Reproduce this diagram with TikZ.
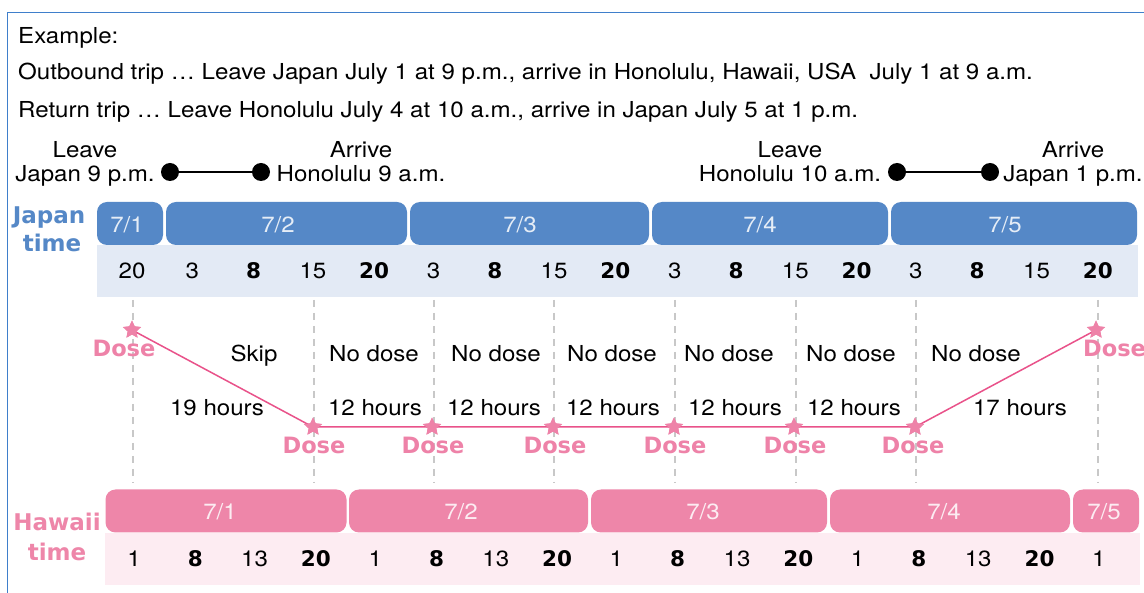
\documentclass[tikz,border=0pt]{standalone}
\usepackage{fontspec}
\setmainfont{TeX Gyre Heros}[FakeStretch=1.095]
\newfontfamily\heavyfont{DejaVu Sans}
\usetikzlibrary{shapes.geometric}
\definecolor{framec}{HTML}{3F7FCB}
\definecolor{jblue}{HTML}{5588C7}
\definecolor{jband}{HTML}{E3EAF5}
\definecolor{hpink}{HTML}{EE86A9}
\definecolor{hband}{HTML}{FDECF2}
\definecolor{pline}{HTML}{E9528A}
\definecolor{dosec}{HTML}{EE82A8}
\definecolor{dashc}{HTML}{C8C8C8}
\newcommand\rgfont{\fontsize{22}{25}\selectfont}
\newcommand\hvfont{\heavyfont\bfseries\fontsize{21.5}{25}\selectfont}
\begin{document}
\begin{tikzpicture}[x=1pt,y=-1pt,
  txt/.style={anchor=base,inner sep=0,font=\rgfont},
  bnum/.style={anchor=base,inner sep=0,font=\hvfont},
  datet/.style={anchor=base,inner sep=0,font=\rgfont,text=white,text opacity=0.85},
  jbox/.style={fill=jblue,rounded corners=10pt,inner sep=0,minimum height=43pt},
  hbox/.style={fill=hpink,rounded corners=10pt,inner sep=0,minimum height=43pt},
  band/.style={inner sep=0,minimum height=52pt},
  dot/.style={circle,fill=black,inner sep=0,minimum size=18pt},
  dosestar/.style={star,star points=5,star point ratio=2.1,fill=dosec,inner sep=0,minimum size=19pt},
  dosetxt/.style={anchor=base,inner sep=0,font=\heavyfont\bfseries\fontsize{22.5}{25}\selectfont,text=dosec},
  rowlabel/.style={anchor=base,inner sep=0,font=\heavyfont\bfseries\fontsize{23}{28}\selectfont,align=center},
  guide/.style={dashc,line width=1.2pt,dash pattern=on 7pt off 6pt},
  pinkline/.style={pline,line width=1.5pt},
  trip/.style={black,line width=2pt}]
\useasboundingbox (0,0) rectangle (1144,593);
\clip (0,0) rectangle (1144,593);
\fill[white] (0,0) rectangle (1144,593);
\draw[framec,line width=1.5pt] (7.5,600) -- (7.5,12.5) -- (1150,12.5);

% header texts
\node[txt,anchor=base west] (ex) at (18,44) {Example:};
\node[txt,anchor=base west] (out) at (18,80) {Outbound trip … Leave Japan July 1 at 9 p.m., arrive in Honolulu, Hawaii, USA\ \ July 1 at 9 a.m.};
\node[txt,anchor=base west] (ret) at (18,118) {Return trip … Leave Honolulu July 4 at 10 a.m., arrive in Japan July 5 at 1 p.m.};

% trip markers
\node[txt] (l1a) at (85,158) {Leave};
\node[txt] (l1b) at (85,182) {Japan 9 p.m.};
\node[txt] (a1a) at (361,158) {Arrive};
\node[txt] (a1b) at (361,182) {Honolulu 9 a.m.};
\node[dot] (p1) at (170,172) {};
\node[dot] (p2) at (261,172) {};
\draw[trip] (p1) -- (p2);
\node[txt] (l2a) at (790,158) {Leave};
\node[txt] (l2b) at (790,182) {Honolulu 10 a.m.};
\node[txt] (a2a) at (1073,158) {Arrive};
\node[txt] (a2b) at (1073,182) {Japan 1 p.m.};
\node[dot] (p3) at (897,172) {};
\node[dot] (p4) at (990,172) {};
\draw[trip] (p3) -- (p4);

% Japan time
\node[rowlabel,text=jblue] (jl1) at (49,224) {Japan};
\node[rowlabel,text=jblue] (jl2) at (52,252) {time};
\node[band,fill=jband,minimum width=1041pt] (jbandn) at (617.5,271) {};
\node[jbox,minimum width=66pt] (jb1) at (130,223.5) {};
\node[jbox,minimum width=241pt] (jb2) at (286.5,223.5) {};
\node[jbox,minimum width=239pt] (jb3) at (529.5,223.5) {};
\node[jbox,minimum width=236pt] (jb4) at (770,223.5) {};
\node[jbox,minimum width=246pt] (jb5) at (1014,223.5) {};
\node[datet] (jd1) at (127,233) {7/1};
\node[datet] (jd2) at (278,233) {7/2};
\node[datet] (jd3) at (520,233) {7/3};
\node[datet] (jd4) at (760,233) {7/4};
\node[datet] (jd5) at (1005,233) {7/5};
\foreach \k/\v/\b in {0/20/0,1/3/0,2/8/1,3/15/0,4/20/1,5/3/0,6/8/1,7/15/0,8/20/1,9/3/0,10/8/1,11/15/0,12/20/1,13/3/0,14/8/1,15/15/0,16/20/1}{
  \ifnum\b=1
    \node[bnum] (jn\k) at (133+60.3*\k,279) {\v};
  \else
    \node[txt] (jn\k) at (132+60.3*\k,279) {\v};
  \fi
}

% guides
\foreach \i/\x in {1/133,2/314,3/434,4/554,5/675,6/796,7/916,8/1098}{
  \coordinate (gt\i) at (\x,300);
  \coordinate (gb\i) at (\x,483);
  \draw[guide] (gt\i) -- (gb\i);
}

% dose line
\node[dosestar] (d0) at (132,330) {};
\node[dosestar] (d1) at (313,427) {};
\node[dosestar] (d2) at (432,427) {};
\node[dosestar] (d3) at (553,427) {};
\node[dosestar] (d4) at (674,427) {};
\node[dosestar] (d5) at (794,427) {};
\node[dosestar] (d6) at (915,427) {};
\node[dosestar] (d7) at (1096,330) {};
\draw[pinkline] (d0.center) -- (d1.center) -- (d2.center) -- (d3.center) -- (d4.center) -- (d5.center) -- (d6.center) -- (d7.center);
\foreach \n in {0,...,7}{\node[dosestar] (ds\n) at (d\n) {};}
\node[dosetxt] (t0) at (124,357) {Dose};
\node[dosetxt] (t1) at (314,454) {Dose};
\node[dosetxt] (t2) at (433,454) {Dose};
\node[dosetxt] (t3) at (555,454) {Dose};
\node[dosetxt] (t4) at (675,454) {Dose};
\node[dosetxt] (t5) at (795,454) {Dose};
\node[dosetxt] (t6) at (913,454) {Dose};
\node[dosetxt,anchor=base west] (t7) at (1083,357) {Dose};

\node[txt] (s1) at (254,362) {Skip};
\node[txt] (s2) at (374,362) {No dose};
\node[txt] (s3) at (496,362) {No dose};
\node[txt] (s4) at (612,362) {No dose};
\node[txt] (s5) at (729,362) {No dose};
\node[txt] (s6) at (851,362) {No dose};
\node[txt] (s7) at (976,362) {No dose};
\node[txt] (h1) at (217,416) {19 hours};
\node[txt] (h2) at (375,416) {12 hours};
\node[txt] (h3) at (494,416) {12 hours};
\node[txt] (h4) at (613,416) {12 hours};
\node[txt] (h5) at (735,416) {12 hours};
\node[txt] (h6) at (854,416) {12 hours};
\node[txt] (h7) at (1020,416) {17 hours};

% Hawaii time
\node[rowlabel,text=hpink] (hl1) at (57,531) {Hawaii};
\node[rowlabel,text=hpink] (hl2) at (57,560) {time};
\node[band,fill=hband,minimum width=1035pt] (hbandn) at (622.5,559) {};
\node[hbox,minimum width=241pt] (hb1) at (226,511) {};
\node[hbox,minimum width=239pt] (hb2) at (468.5,511) {};
\node[hbox,minimum width=236pt] (hb3) at (709,511) {};
\node[hbox,minimum width=240pt] (hb4) at (950,511) {};
\node[hbox,minimum width=66pt] (hb5) at (1106,511) {};
\node[datet] (hd1) at (220,520) {7/1};
\node[datet] (hd2) at (461,520) {7/2};
\node[datet] (hd3) at (703,520) {7/3};
\node[datet] (hd4) at (944,520) {7/4};
\node[datet] (hd5) at (1104,520) {7/5};
\foreach \k/\v/\b in {0/1/0,1/8/1,2/13/0,3/20/1,4/1/0,5/8/1,6/13/0,7/20/1,8/1/0,9/8/1,10/13/0,11/20/1,12/1/0,13/8/1,14/13/0,15/20/1,16/1/0}{
  \ifnum\b=1
    \node[bnum] (hn\k) at (135+60.3*\k,566) {\v};
  \else
    \node[txt] (hn\k) at (134+60.3*\k,566) {\v};
  \fi
}
\end{tikzpicture}
\end{document}
